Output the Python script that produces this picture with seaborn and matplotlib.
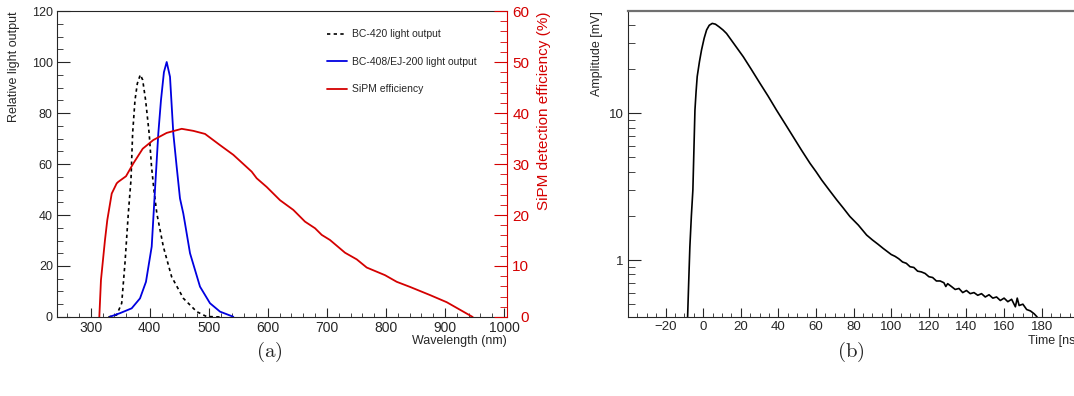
import matplotlib
matplotlib.use("Agg")
import matplotlib.pyplot as plt
from matplotlib.lines import Line2D
from matplotlib.ticker import MultipleLocator, FixedLocator, NullFormatter, FixedFormatter
import seaborn as sns

# (a) scintillator emission spectra + SiPM detection efficiency
bc420_nm = [330, 344, 352.5, 358, 363.7, 368.2, 371, 375, 379, 384, 388, 393, 399, 403, 407,
            412, 423, 437, 457, 479.5, 496, 520]
bc420_lo = [0, 0.8, 5.4, 21, 40.6, 53.7, 72, 85, 91.6, 95, 93, 85, 72, 59, 50,
            40.6, 27.6, 15.8, 7.3, 2.1, 0.2, 0]

bc408_nm = [332.7, 349.6, 369.4, 383.5, 393.6, 403.3, 408.9, 414.5, 419, 424, 428.7, 434.3,
            439.9, 445.6, 451.2, 456.8, 459.7, 468.2, 485.1, 502, 519, 541.5]
bc408_lo = [0.1, 1.5, 3.4, 7.3, 13.8, 27.6, 50, 72, 85, 96, 100, 94.2,
            72, 58.9, 46.5, 40.6, 36.7, 25, 11.9, 5.4, 2.1, 0.1]

sipm_nm = [314.6, 317.4, 324.2, 328.1, 335.6, 344, 346.7, 359.8, 372.1, 388.1, 406, 428.7,
           454.1, 473.8, 493.6, 519, 541.5, 561.3, 572.6, 581.1, 598, 620.6, 643.1, 662.9,
           679.9, 691.2, 705.2, 730.7, 750.5, 767.4, 798.4, 818.2, 840.7, 874.6, 902.9, 946.9]
sipm_eff = [0, 7.25, 15.1, 19, 24.2, 26.2, 26.5, 27.6, 30.1, 33, 34.7, 36.1,
            36.9, 36.5, 35.9, 33.7, 31.8, 29.7, 28.5, 27.2, 25.5, 22.9, 21, 18.7,
            17.4, 16.1, 15.1, 12.6, 11.3, 9.7, 8.2, 6.9, 5.9, 4.3, 2.9, 0]

# (b) averaged SiPM pulse
pulse_t = [-8.3, -7.7, -7.1, -6.3, -5.5, -5.0, -4.4, -3.8, -3.2, -2.0, -0.9, 0.5, 1.8, 3.2, 4.8,
           6.5, 8.5, 10.5, 12.4, 16, 21.3, 25.5, 30.2, 34.5, 39, 43.5, 47.9, 52.3, 56.8, 60,
           63, 67, 71, 74.5, 78, 82.5, 86.9, 90, 93, 95.7, 98,
           100, 102, 104, 106, 108, 110, 112, 114, 116, 118, 120, 122, 124, 126, 128, 129,
           130, 132, 134, 136, 138, 140, 142, 144, 146, 148, 150, 152, 154, 156, 158, 160,
           162, 164, 166, 167, 168, 170, 172, 174, 176, 177.5, 178.5]
pulse_mv = [0.41, 0.72, 1.23, 2.0, 3.0, 5.3, 10.5, 14, 17.8, 22.5, 27, 32.5, 37, 39.8, 41,
            40.5, 38.8, 37, 35, 30.2, 24.3, 20, 16, 13.1, 10.5, 8.5, 6.9, 5.6, 4.56, 4.0,
            3.51, 3.0, 2.57, 2.26, 1.98, 1.73, 1.48, 1.37, 1.28, 1.2, 1.14,
            1.09, 1.06, 1.02, 0.97, 0.95, 0.90, 0.89, 0.84, 0.83, 0.81, 0.77, 0.76, 0.72, 0.72, 0.70, 0.66,
            0.69, 0.66, 0.63, 0.64, 0.60, 0.62, 0.59, 0.60, 0.575, 0.59, 0.56, 0.58, 0.55, 0.56, 0.53, 0.55,
            0.52, 0.54, 0.48, 0.55, 0.49, 0.50, 0.46, 0.45, 0.43, 0.41, 0.38]
pulse_ticks = [-20, 0, 20, 40, 60, 80, 100, 120, 140, 160, 180]

RED = "#d40000"
BLUE = "#0000e0"

sns.set_style("ticks")
plt.rcParams["font.family"] = ["Liberation Sans", "DejaVu Sans"]
plt.rcParams["mathtext.fontset"] = "cm"
plt.rcParams["axes.linewidth"] = 0.8

fig = plt.figure(figsize=(10.74, 3.96), dpi=100)

# ---- panel (a)
ax = fig.add_axes([0.0531, 0.1995, 0.419, 0.7727])
ax2 = ax.twinx()
sns.lineplot(x=bc420_nm, y=bc420_lo, ax=ax, color="black", lw=1.2, linestyle=(0, (2, 2)))
sns.lineplot(x=bc408_nm, y=bc408_lo, ax=ax, color=BLUE, lw=1.3)
sns.lineplot(x=sipm_nm, y=sipm_eff, ax=ax2, color=RED, lw=1.3)

ax.set_xlim(243, 1005)
ax.set_ylim(0, 120)
ax2.set_ylim(0, 60)

ax.xaxis.set_major_locator(MultipleLocator(100))
ax.xaxis.set_minor_locator(MultipleLocator(20))
ax.yaxis.set_major_locator(MultipleLocator(20))
ax.yaxis.set_minor_locator(MultipleLocator(5))
ax2.yaxis.set_major_locator(MultipleLocator(10))
ax2.yaxis.set_minor_locator(MultipleLocator(2))

ax.tick_params(axis="y", which="major", direction="in", length=9.4, labelsize=9, pad=3, right=False)
ax.tick_params(axis="y", which="minor", direction="in", length=4.5, right=False)
ax.tick_params(axis="x", which="major", direction="in", length=6.5, labelsize=10, pad=3, top=False)
ax.tick_params(axis="x", which="minor", direction="in", length=3.2, top=False)
ax2.tick_params(axis="y", which="major", direction="in", length=9.4, labelsize=11, pad=16,
                color=RED, labelcolor=RED)
ax2.tick_params(axis="y", which="minor", direction="in", length=5, color=RED)
for lab in ax2.get_yticklabels():
    lab.set_horizontalalignment("right")
ax2.spines["right"].set_color(RED)
ax.spines["right"].set_visible(False)
for s in ["top", "left", "bottom"]:
    ax2.spines[s].set_visible(False)

ax.set_ylabel("Relative light output", fontsize=9, loc="top")
ax.yaxis.set_label_coords(-0.082, 1.0)
ax.set_xlabel("Wavelength (nm)", fontsize=9, loc="right")
ax.xaxis.set_label_coords(1.0, -0.058)
ax2.set_ylabel("SiPM detection efficiency (%)", fontsize=11, color=RED, loc="top")
ax2.yaxis.set_label_coords(1.067, 1.0)

handles = [Line2D([], [], color="black", lw=1.2, linestyle=(0, (2, 2))),
           Line2D([], [], color=BLUE, lw=1.3),
           Line2D([], [], color=RED, lw=1.3)]
labels = ["BC-420 light output", "BC-408/EJ-200 light output", "SiPM efficiency"]
ax2.legend(handles, labels, loc="upper left", bbox_to_anchor=(0.6, 0.94), frameon=False,
           fontsize=7.5, handlelength=1.9, handletextpad=0.5, labelspacing=1.68,
           borderpad=0, borderaxespad=0)

# ---- panel (b)
bx = fig.add_axes([628 / 1074, 0.1995, 451.3 / 1074, 0.7727])
sns.lineplot(x=pulse_t, y=pulse_mv, ax=bx, color="black", lw=1.2)
bx.set_yscale("log")
bx.set_xlim(-40, 200)
bx.set_ylim(0.409, 49.8)

bx.xaxis.set_major_locator(FixedLocator(pulse_ticks))
bx.xaxis.set_minor_locator(MultipleLocator(5))
bx.yaxis.set_major_locator(FixedLocator([1, 10]))
bx.yaxis.set_major_formatter(FixedFormatter(["1", "10"]))
bx.yaxis.set_minor_locator(FixedLocator([0.5, 0.6, 0.7, 0.8, 0.9, 2, 3, 4, 5, 6, 7, 8, 9, 20, 30, 40]))
bx.yaxis.set_minor_formatter(NullFormatter())

bx.tick_params(axis="y", which="major", direction="in", length=9.4, labelsize=9.5, pad=3, right=False)
bx.tick_params(axis="y", which="minor", direction="in", length=5, right=False)
bx.tick_params(axis="x", which="major", direction="in", length=6.5, labelsize=9.5, pad=3, top=False)
bx.tick_params(axis="x", which="minor", direction="in", length=3, top=False)
bx.spines["top"].set_color("#707070")
bx.spines["top"].set_linewidth(1.6)
bx.spines["right"].set_visible(False)

bx.set_ylabel("Amplitude [mV]", fontsize=9, loc="top")
bx.yaxis.set_label_coords(-0.055, 1.0)
bx.set_xlabel("Time [ns]", fontsize=9, loc="right")
bx.xaxis.set_label_coords(1.0, -0.058)

fig.text(269 / 1074, 1 - 352 / 396, r"$\mathrm{(a)}$", ha="center", va="center", fontsize=15)
fig.text(851 / 1074, 1 - 352 / 396, r"$\mathrm{(b)}$", ha="center", va="center", fontsize=15)

fig.savefig("out.png", dpi=100)
